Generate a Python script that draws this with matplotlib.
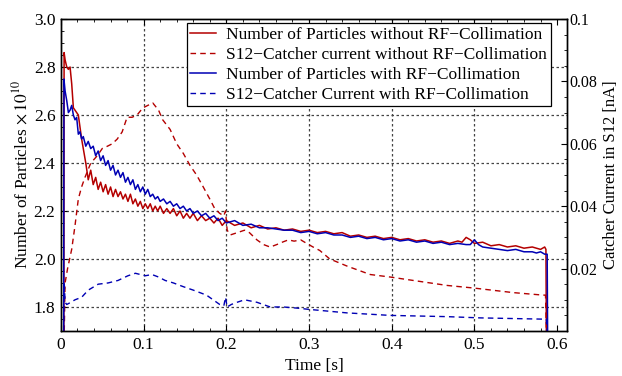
import matplotlib
matplotlib.use("Agg")
import matplotlib.pyplot as plt
from matplotlib.ticker import MultipleLocator

plt.rcParams['font.family'] = 'Liberation Serif'
plt.rcParams['mathtext.fontset'] = 'stix'
plt.rcParams['font.size'] = 12.5

RED = '#b40000'
BLUE = '#0000b4'

# number of particles without RF-collimation (x 1e10)
t_n_without = [0.0035, 0.0038, 0.005, 0.007, 0.009, 0.011, 0.013, 0.015, 0.017, 0.019,
               0.021, 0.023, 0.025, 0.027, 0.030, 0.033, 0.036, 0.039, 0.042, 0.045,
               0.048, 0.051, 0.054, 0.057, 0.060, 0.063, 0.066, 0.069, 0.072, 0.075,
               0.078, 0.081, 0.084, 0.087, 0.090, 0.093, 0.096, 0.099, 0.102, 0.105,
               0.108, 0.111, 0.114, 0.117, 0.120, 0.124, 0.128, 0.132, 0.136, 0.140,
               0.144, 0.148, 0.152, 0.156, 0.160, 0.165, 0.170, 0.175, 0.180, 0.185,
               0.190, 0.195, 0.200, 0.210, 0.220, 0.230, 0.240, 0.250, 0.260, 0.270,
               0.280, 0.290, 0.300, 0.310, 0.320, 0.330, 0.340, 0.350, 0.360, 0.370,
               0.380, 0.390, 0.400, 0.410, 0.420, 0.430, 0.440, 0.450, 0.460, 0.470,
               0.480, 0.485, 0.490, 0.495, 0.500, 0.510, 0.520, 0.530, 0.540, 0.550,
               0.560, 0.570, 0.580, 0.585, 0.5865, 0.587]
n_without = [1.70, 2.86, 2.83, 2.80, 2.79, 2.80, 2.73, 2.63, 2.62, 2.61,
             2.60, 2.55, 2.50, 2.46, 2.40, 2.33, 2.37, 2.31, 2.34, 2.29,
             2.32, 2.28, 2.31, 2.27, 2.30, 2.26, 2.29, 2.26, 2.28, 2.25,
             2.27, 2.24, 2.27, 2.23, 2.25, 2.22, 2.24, 2.21, 2.23, 2.21,
             2.23, 2.20, 2.22, 2.20, 2.22, 2.19, 2.21, 2.19, 2.21, 2.18,
             2.20, 2.17, 2.19, 2.17, 2.19, 2.16, 2.18, 2.16, 2.17, 2.15,
             2.17, 2.14, 2.16, 2.14, 2.15, 2.13, 2.14, 2.125, 2.13, 2.12,
             2.125, 2.115, 2.12, 2.11, 2.115, 2.105, 2.11, 2.095, 2.10, 2.09,
             2.095, 2.085, 2.09, 2.08, 2.085, 2.075, 2.08, 2.07, 2.075, 2.065,
             2.075, 2.07, 2.09, 2.08, 2.065, 2.07, 2.055, 2.06, 2.05, 2.055,
             2.045, 2.05, 2.04, 2.05, 2.04, 1.70]

# number of particles with RF-collimation (x 1e10)
t_n_with = [0.0033, 0.0036, 0.005, 0.007, 0.009, 0.011, 0.013, 0.015, 0.017, 0.019,
            0.021, 0.023, 0.025, 0.027, 0.030, 0.033, 0.036, 0.039, 0.042, 0.045,
            0.048, 0.051, 0.054, 0.057, 0.060, 0.063, 0.066, 0.069, 0.072, 0.075,
            0.078, 0.081, 0.084, 0.087, 0.090, 0.093, 0.096, 0.099, 0.102, 0.105,
            0.108, 0.111, 0.114, 0.117, 0.120, 0.124, 0.128, 0.132, 0.136, 0.140,
            0.144, 0.148, 0.152, 0.156, 0.160, 0.165, 0.170, 0.175, 0.180, 0.185,
            0.190, 0.195, 0.200, 0.210, 0.220, 0.230, 0.240, 0.250, 0.260, 0.270,
            0.280, 0.290, 0.300, 0.310, 0.320, 0.330, 0.340, 0.350, 0.360, 0.370,
            0.380, 0.390, 0.400, 0.410, 0.420, 0.430, 0.440, 0.450, 0.460, 0.470,
            0.480, 0.490, 0.495, 0.500, 0.505, 0.510, 0.520, 0.530, 0.540, 0.550,
            0.560, 0.570, 0.575, 0.580, 0.585, 0.588, 0.5885]
n_with = [1.70, 2.75, 2.70, 2.66, 2.61, 2.62, 2.64, 2.60, 2.58, 2.59,
          2.52, 2.53, 2.50, 2.51, 2.47, 2.49, 2.46, 2.47, 2.43, 2.45,
          2.41, 2.43, 2.39, 2.41, 2.37, 2.39, 2.35, 2.37, 2.34, 2.36,
          2.32, 2.34, 2.31, 2.33, 2.29, 2.31, 2.28, 2.30, 2.27, 2.29,
          2.26, 2.27, 2.25, 2.26, 2.24, 2.25, 2.23, 2.24, 2.22, 2.23,
          2.21, 2.22, 2.20, 2.21, 2.19, 2.20, 2.18, 2.19, 2.17, 2.18,
          2.16, 2.17, 2.15, 2.16, 2.14, 2.145, 2.13, 2.13, 2.125, 2.12,
          2.12, 2.11, 2.115, 2.105, 2.11, 2.10, 2.10, 2.09, 2.095, 2.085,
          2.09, 2.08, 2.085, 2.075, 2.08, 2.07, 2.075, 2.065, 2.07, 2.06,
          2.065, 2.06, 2.06, 2.08, 2.06, 2.05, 2.045, 2.04, 2.035, 2.04,
          2.03, 2.03, 2.025, 2.03, 2.02, 2.02, 1.70]

# S12 catcher current without RF-collimation [nA]
t_i_without = [0.004, 0.005, 0.008, 0.013, 0.017, 0.021, 0.025, 0.029, 0.036, 0.044,
               0.050, 0.056, 0.062, 0.068, 0.074, 0.080, 0.086, 0.092, 0.099, 0.105,
               0.111, 0.118, 0.123, 0.132, 0.140, 0.148, 0.156, 0.164, 0.172, 0.180,
               0.186, 0.192, 0.197, 0.199, 0.201, 0.205, 0.213, 0.222, 0.228, 0.237,
               0.245, 0.253, 0.261, 0.268, 0.275, 0.282, 0.290, 0.297, 0.305, 0.313,
               0.325, 0.346, 0.374, 0.398, 0.426, 0.467, 0.498, 0.547, 0.583, 0.586,
               0.587]
i_without = [0.0, 0.0154, 0.0200, 0.0262, 0.0338, 0.0423, 0.0462, 0.0492, 0.0538, 0.0562,
             0.0585, 0.0592, 0.0600, 0.0615, 0.0638, 0.0685, 0.0685, 0.0692, 0.0715, 0.0723,
             0.0731, 0.0708, 0.0677, 0.0646, 0.0600, 0.0569, 0.0531, 0.0500, 0.0462, 0.0423,
             0.0392, 0.0377, 0.0369, 0.0385, 0.0323, 0.0308, 0.0315, 0.0323, 0.0315, 0.0292,
             0.0277, 0.0269, 0.0277, 0.0285, 0.0292, 0.0288, 0.0292, 0.0281, 0.0269, 0.0258,
             0.0231, 0.0208, 0.0181, 0.0173, 0.0162, 0.0146, 0.0138, 0.0123, 0.0115, 0.0115,
             0.0]

# S12 catcher current with RF-collimation [nA]
t_i_with = [0.0035, 0.004, 0.005, 0.007, 0.012, 0.017, 0.025, 0.033, 0.045, 0.057,
            0.069, 0.081, 0.090, 0.102, 0.110, 0.118, 0.126, 0.136, 0.148, 0.160,
            0.176, 0.192, 0.197, 0.199, 0.201, 0.206, 0.213, 0.222, 0.237, 0.253,
            0.269, 0.287, 0.301, 0.346, 0.398, 0.467, 0.507, 0.583, 0.587, 0.588]
i_with = [0.0, 0.0154, 0.0092, 0.0085, 0.0092, 0.0100, 0.0108, 0.0131, 0.0150, 0.0154,
          0.0162, 0.0177, 0.0185, 0.0177, 0.0181, 0.0173, 0.0162, 0.0154, 0.0142, 0.0131,
          0.0115, 0.0085, 0.0081, 0.0108, 0.0077, 0.0085, 0.0092, 0.0100, 0.0092, 0.0077,
          0.0077, 0.0073, 0.0069, 0.0058, 0.0050, 0.0046, 0.0042, 0.0038, 0.0038, 0.0]

fig = plt.figure(figsize=(6.22, 3.76), dpi=100)
ax = fig.add_axes([0.098, 0.1197, 0.8136, 0.8298])
ax2 = ax.twinx()

l1, = ax.plot(t_n_without, n_without, color=RED, lw=1.1)
l3, = ax.plot(t_n_with, n_with, color=BLUE, lw=1.1)
l2, = ax2.plot(t_i_without, i_without, color=RED, lw=1.0, ls=(0, (4, 3)))
l4, = ax2.plot(t_i_with, i_with, color=BLUE, lw=1.0, ls=(0, (4, 3)))

ax.set_xlim(0, 0.612)
ax.set_ylim(1.7, 3.0)
ax2.set_ylim(0, 0.1)

ax.xaxis.set_minor_locator(MultipleLocator(0.02))
ax.yaxis.set_minor_locator(MultipleLocator(0.05))
ax2.yaxis.set_minor_locator(MultipleLocator(0.005))
ax.set_xticks([0, 0.1, 0.2, 0.3, 0.4, 0.5, 0.6])
ax.set_xticklabels(['0', '0.1', '0.2', '0.3', '0.4', '0.5', '0.6'])
ax.set_yticks([1.8, 2.0, 2.2, 2.4, 2.6, 2.8, 3.0])
ax2.set_yticks([0.02, 0.04, 0.06, 0.08, 0.1])
ax2.set_yticklabels(['0.02', '0.04', '0.06', '0.08', '0.1'])

ax.tick_params(which='both', direction='in', top=True, right=False, pad=4)
ax.tick_params(which='major', length=4)
ax.tick_params(which='minor', length=2)
ax2.tick_params(which='both', direction='in', pad=2, labelsize=11.5)
ax2.tick_params(which='major', length=4)
ax2.tick_params(which='minor', length=2)

for a in (ax, ax2):
    for s in a.spines.values():
        s.set_linewidth(1.0)

# grid at the left-axis and time ticks
for x in [0.1, 0.2, 0.3, 0.4, 0.5]:
    ax.axvline(x, color='#444444', lw=0.9, ls=(0, (2, 2)), zorder=0)
for y in [1.8, 2.0, 2.2, 2.4, 2.6, 2.8]:
    ax.axhline(y, color='#444444', lw=0.9, ls=(0, (2, 2)), zorder=0)

ax.set_xlabel('Time [s]', labelpad=4)
ax.set_ylabel(r'Number of Particles $\times\,10^{10}$', labelpad=2)
ax2.set_ylabel('Catcher Current in S12 [nA]', fontsize=12)
ax2.yaxis.set_label_coords(1.072, 0.5)

leg = ax2.legend([l1, l2, l3, l4],
                 ['Number of Particles without RF\u2212Collimation',
                  'S12\u2212Catcher current without RF\u2212Collimation',
                  'Number of Particles with RF\u2212Collimation',
                  'S12\u2212Catcher Current with RF\u2212Collimation'],
                 loc='upper right', bbox_to_anchor=(0.968, 0.987), borderaxespad=0,
                 fancybox=False, framealpha=1, edgecolor='black', fontsize=12.5,
                 handlelength=1.5, handletextpad=0.6, labelspacing=0.22, borderpad=0.2)
leg.get_frame().set_linewidth(0.9)

fig.savefig('out.png', dpi=100)
